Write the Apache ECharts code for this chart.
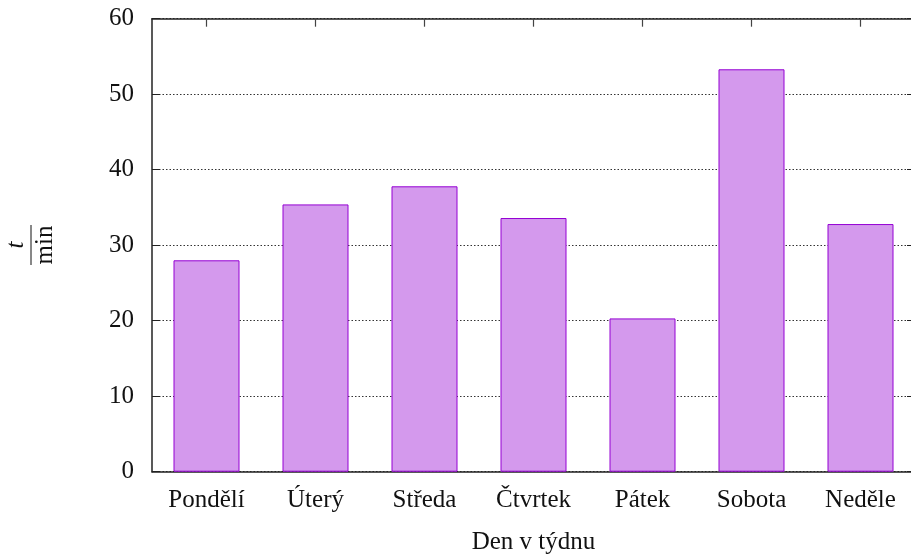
<!DOCTYPE html>
<html>
<head>
<meta charset="utf-8">
<script src="https://cdn.jsdelivr.net/npm/echarts@6/dist/echarts.min.js"></script>
<style>
  html, body { margin: 0; padding: 0; background: #fff; }
  #chart { width: 911px; height: 555px; }
</style>
</head>
<body>
<div id="chart"></div>
<script>
// Days of the week and time spent per day (minutes)
var days = ['Pondělí', 'Úterý', 'Středa', 'Čtvrtek', 'Pátek', 'Sobota', 'Neděle'];
var minutes = [28.0, 35.4, 37.8, 33.6, 20.3, 53.3, 32.8];
var yTicks = { min: 0, max: 60, interval: 10 };
var xTitle = 'Den v týdnu';

var FONT = '"Liberation Serif", "DejaVu Serif", serif';
var FS = 25;
var AXIS = '#222';

var chart = echarts.init(document.getElementById('chart'), null, { renderer: 'canvas' });

chart.setOption({
  animation: false,
  backgroundColor: '#fff',
  textStyle: { fontFamily: FONT },
  grid: { left: 152, top: 18.7, bottom: 83.3, right: -4, containLabel: false, outerBoundsMode: 'none' },
  xAxis: [
    {
      type: 'category',
      data: days,
      position: 'bottom',
      axisLine: { show: true, onZero: false, lineStyle: { color: AXIS, width: 1.5 } },
      axisTick: { show: false },
      axisLabel: { color: '#111', fontFamily: FONT, fontSize: FS, margin: 16 },
      name: xTitle,
      nameLocation: 'middle',
      nameGap: 58,
      nameTextStyle: { color: '#111', fontFamily: FONT, fontSize: FS }
    },
    {
      // mirrored axis along the top edge, ticks pointing into the plot
      type: 'category',
      data: days,
      position: 'top',
      axisLine: { show: true, onZero: false, lineStyle: { color: AXIS, width: 1.5 } },
      axisTick: { show: true, inside: true, alignWithLabel: true, interval: 0, length: 8, lineStyle: { color: '#444', width: 1.2 } },
      axisLabel: { show: true, interval: 0, color: 'rgba(0,0,0,0)', fontSize: 1 }
    }
  ],
  yAxis: [
    {
      type: 'value',
      min: yTicks.min,
      max: yTicks.max,
      interval: yTicks.interval,
      position: 'left',
      axisLine: { show: true, onZero: false, lineStyle: { color: AXIS, width: 1.5 } },
      axisTick: { show: true, inside: true, length: 8, lineStyle: { color: AXIS, width: 1 } },
      axisLabel: { color: '#111', fontFamily: FONT, fontSize: FS, margin: 18 },
      splitLine: { show: true, lineStyle: { color: '#333', width: 1, type: [1.5, 2] } }
    },
    {
      type: 'value',
      min: yTicks.min,
      max: yTicks.max,
      interval: yTicks.interval,
      position: 'right',
      axisLine: { show: true, onZero: false, lineStyle: { color: AXIS, width: 1.5 } },
      axisTick: { show: true, inside: true, length: 8, lineStyle: { color: AXIS, width: 1 } },
      axisLabel: { show: false },
      splitLine: { show: false }
    }
  ],
  series: [
    {
      type: 'bar',
      data: minutes,
      xAxisIndex: 0,
      yAxisIndex: 0,
      barWidth: 66,
      itemStyle: { color: '#d499ed', borderColor: '#9400d3', borderWidth: 1 }
    }
  ],
  graphic: [
    {
      // y-axis title drawn as the fraction t / min, turned on its side
      type: 'group',
      x: 31,
      y: 245,
      rotation: Math.PI / 2,
      children: [
        {
          type: 'text',
          x: 0, y: -15,
          style: { text: 't', font: 'italic ' + FS + 'px ' + FONT, fill: '#111', textAlign: 'center', textVerticalAlign: 'middle' }
        },
        {
          type: 'line',
          shape: { x1: -20, y1: 0, x2: 20, y2: 0 },
          style: { stroke: '#111', lineWidth: 1 }
        },
        {
          type: 'text',
          x: 0, y: 14,
          style: { text: 'min', font: FS + 'px ' + FONT, fill: '#111', textAlign: 'center', textVerticalAlign: 'middle' }
        }
      ]
    }
  ]
});
</script>
</body>
</html>
